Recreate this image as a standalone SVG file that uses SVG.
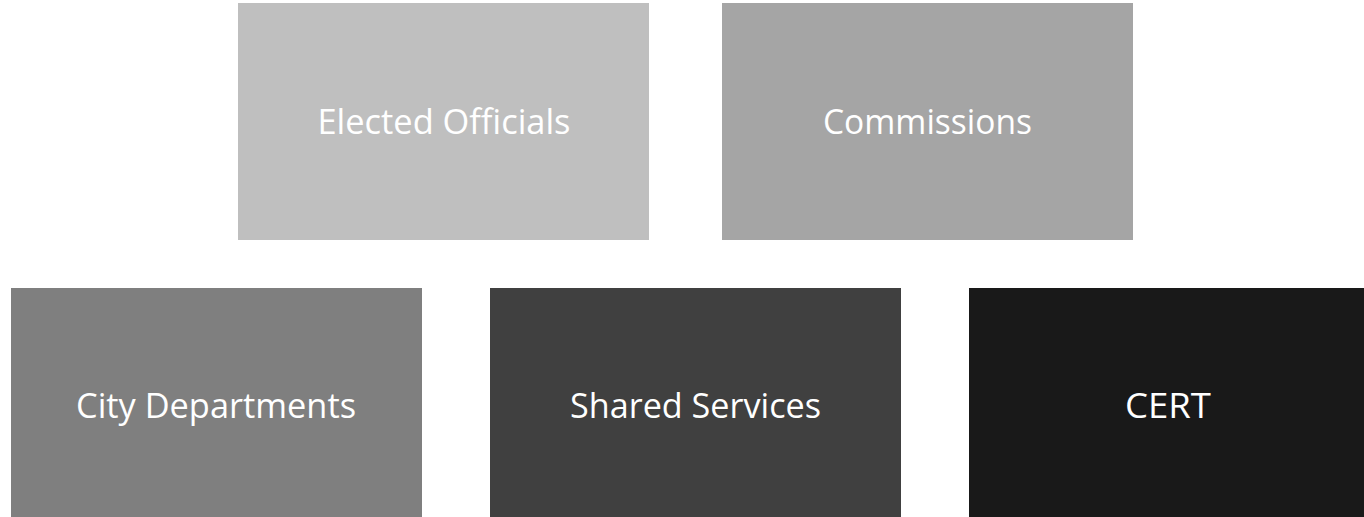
<svg xmlns="http://www.w3.org/2000/svg" width="1364" height="517" viewBox="0 0 1364 517">
<style>
.lbl{font-family:"Open Sans","Noto Sans","Liberation Sans",sans-serif;font-size:34px;fill:#ffffff;text-anchor:middle}
</style>
<rect width="1364" height="517" fill="#ffffff"/>
<g id="elected-officials">
<rect x="238" y="3" width="411" height="237" fill="#bfbfbf"/>
<text class="lbl" x="444" y="134" textLength="253" lengthAdjust="spacingAndGlyphs">Elected Officials</text>
</g>
<g id="commissions">
<rect x="722" y="3" width="411" height="237" fill="#a5a5a5"/>
<text class="lbl" x="927.5" y="134" textLength="209" lengthAdjust="spacingAndGlyphs">Commissions</text>
</g>
<g id="city-departments">
<rect x="11" y="288" width="411" height="229" fill="#7f7f7f"/>
<text class="lbl" x="216" y="418" textLength="280" lengthAdjust="spacingAndGlyphs">City Departments</text>
</g>
<g id="shared-services">
<rect x="490" y="288" width="411" height="229" fill="#404040"/>
<text class="lbl" x="695.5" y="418" textLength="251" lengthAdjust="spacingAndGlyphs">Shared Services</text>
</g>
<g id="cert">
<rect x="969" y="288" width="395" height="229" fill="#191919"/>
<text class="lbl" x="1168" y="418" textLength="86" lengthAdjust="spacingAndGlyphs">CERT</text>
</g>
<g id="connectors"></g>
</svg>
